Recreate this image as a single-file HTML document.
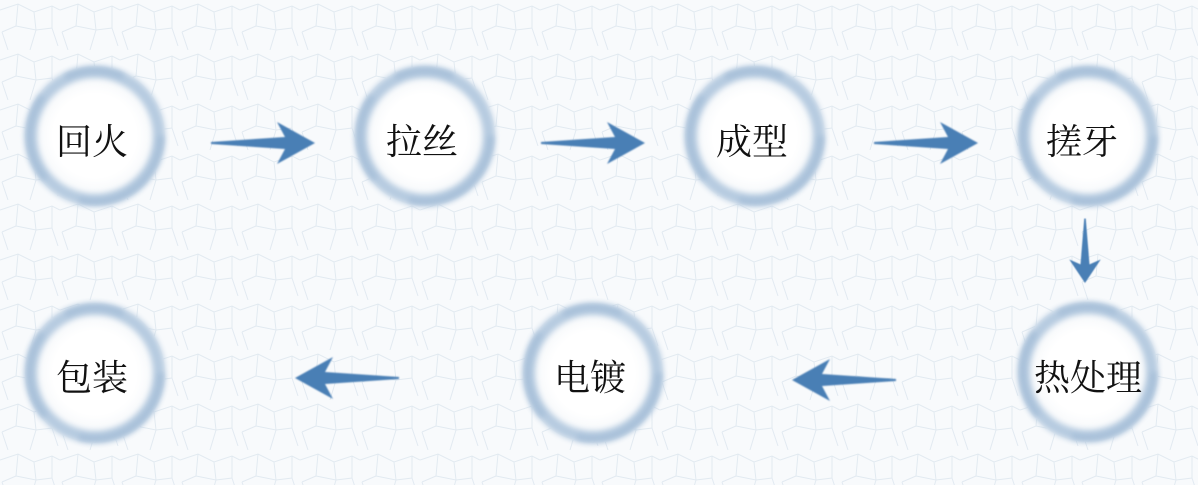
<!DOCTYPE html>
<html><head><meta charset="utf-8"><style>
html,body{margin:0;padding:0;background:#f8fafc;}
svg{display:block}
text{font-family:"Liberation Serif","Noto Serif CJK SC",serif;font-size:36px;fill:#111;text-anchor:middle;dominant-baseline:central}
</style></head><body>
<svg width="1198" height="485" viewBox="0 0 1198 485">
<defs>
<filter id="b" x="-20%" y="-20%" width="140%" height="140%"><feGaussianBlur stdDeviation="3"/></filter>
<filter id="b2" x="-20%" y="-20%" width="140%" height="140%"><feGaussianBlur stdDeviation="0.8"/></filter>
<radialGradient id="g"><stop offset="0.6" stop-color="#fff"/><stop offset="1" stop-color="#f0f4f8"/></radialGradient>
<pattern id="p" width="60" height="50" patternUnits="userSpaceOnUse">
<path d="M0 10 L18 4 L34 12 L52 6 L60 10 M18 4 L16 26 L2 32 M16 26 L36 30 L34 12 M36 30 L52 28 L52 6 M52 28 L58 46 M36 30 L30 50 M2 32 L8 50" stroke="#e2eaf1" stroke-width="1" fill="none"/>
</pattern>
<g id="c">
<circle r="70" fill="url(#g)"/>
<circle r="64" fill="none" stroke="#b6cbe0" stroke-width="12" filter="url(#b)"/>
<circle r="66" fill="none" stroke="#9ab5d2" stroke-width="6" stroke-dasharray="120 40 90 30 60" filter="url(#b)" opacity="0.6"/>
</g>
<path id="ar" d="M0 0 L-38 -21 L-30 -6 L-104 -1 L-104 1 L-30 6 L-38 21 Z" fill="#4a7fb5" filter="url(#b2)"/>
</defs>
<rect width="1198" height="485" fill="url(#p)"/>
<use href="#c" x="95" y="136"/>
<use href="#c" x="425" y="136"/>
<use href="#c" x="755" y="136"/>
<use href="#c" x="1088" y="136"/>
<use href="#c" x="1088" y="372"/>
<use href="#c" x="593" y="373"/>
<use href="#c" x="95" y="373"/>
<use href="#ar" transform="translate(315,143)"/>
<use href="#ar" transform="translate(645,143)"/>
<use href="#ar" transform="translate(978,143)"/>
<use href="#ar" transform="translate(1085,283) rotate(90) scale(0.62,0.75)"/>
<use href="#ar" transform="translate(792,380) rotate(180)"/>
<use href="#ar" transform="translate(295,378) rotate(180)"/>
<text x="92" y="142">回火</text>
<text x="422" y="142">拉丝</text>
<text x="752" y="142">成型</text>
<text x="1082" y="142">搓牙</text>
<text x="1088" y="378">热处理</text>
<text x="590" y="378">电镀</text>
<text x="92" y="378">包装</text>
</svg>
</body></html>
